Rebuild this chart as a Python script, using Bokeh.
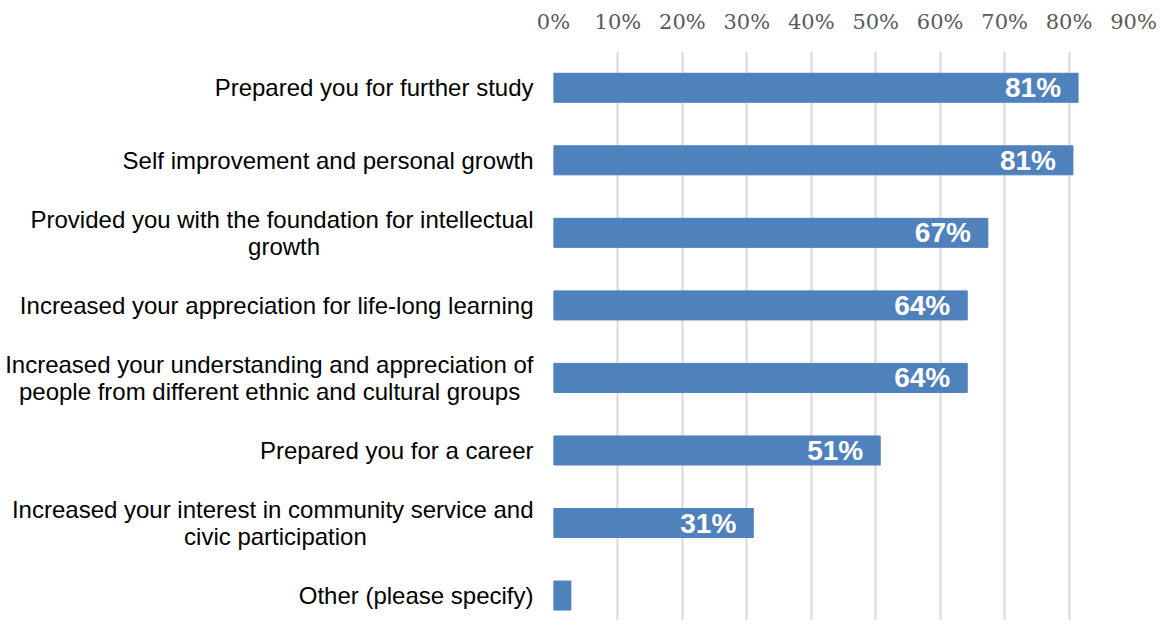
from bokeh.plotting import figure
from bokeh.models import (ColumnDataSource, Range1d, FixedTicker, NumeralTickFormatter,
                          LabelSet)
from bokeh.core.properties import value
from bokeh.embed import file_html
from bokeh.resources import INLINE

categories = [
    "Prepared you for further study",
    "Self improvement and personal growth",
    "Provided you with the foundation for intellectual\ngrowth",
    "Increased your appreciation for life-long learning",
    "Increased your understanding and appreciation of\npeople from different ethnic and cultural groups",
    "Prepared you for a career",
    "Increased your interest in community service and\ncivic participation",
    "Other (please specify)",
]
values = [0.814, 0.806, 0.674, 0.642, 0.642, 0.507, 0.310, 0.027]
value_labels = ["81%", "81%", "67%", "64%", "64%", "51%", "31%", ""]
x_ticks = [0.0, 0.1, 0.2, 0.3, 0.4, 0.5, 0.6, 0.7, 0.8, 0.9]

# layout only: trailing non-breaking spaces so that short second lines sit centred
second_line_pad = {2: 32, 4: 2, 6: 25}

pos = list(range(len(categories)))
src = ColumnDataSource(dict(y=pos, v=values, lab=value_labels))


def padded(i, c):
    n = second_line_pad.get(i, 0)
    return c + "\u00a0" * n if n else c


p = figure(width=1157, height=620, output_backend="svg", toolbar_location=None,
           x_range=Range1d(0, 0.9), y_range=Range1d(7.344, -0.5),
           x_axis_location="above", min_border_left=553, min_border_right=24,
           min_border_top=51, min_border_bottom=0)
p.outline_line_color = None
p.background_fill_color = "white"

p.hbar(y="y", right="v", left=0, height=0.4, source=src, color="#4F81BD")

labels = LabelSet(x="v", y="y", text="lab", source=src, x_offset=-17,
                  text_align="right", text_baseline="middle", text_color="white",
                  text_font=value("Liberation Sans"), text_font_style="bold",
                  text_font_size="28px")
p.add_layout(labels)

xa = p.xaxis[0]
xa.ticker = FixedTicker(ticks=x_ticks)
xa.formatter = NumeralTickFormatter(format="0%")
xa.axis_line_color = None
xa.major_tick_line_color = None
xa.minor_tick_line_color = None
xa.major_label_text_font = "DejaVu Serif"
xa.major_label_text_font_size = "21px"
xa.major_label_text_color = "#595959"
xa.major_label_standoff = 12

ya = p.yaxis[0]
ya.ticker = FixedTicker(ticks=pos)
ya.major_label_overrides = {i: padded(i, c) for i, c in zip(pos, categories)}
ya.axis_line_color = None
ya.major_tick_line_color = None
ya.minor_tick_line_color = None
ya.major_label_text_font = "Liberation Sans"
ya.major_label_text_font_size = "24px"
ya.major_label_text_color = "black"
ya.major_label_text_line_height = 1.0
ya.major_label_standoff = 14

p.xgrid.ticker = FixedTicker(ticks=x_ticks)
p.xgrid.grid_line_color = "#D9D9D9"
p.xgrid.grid_line_width = 2
p.ygrid.grid_line_color = None

open("out.html", "w").write(file_html(p, INLINE))
